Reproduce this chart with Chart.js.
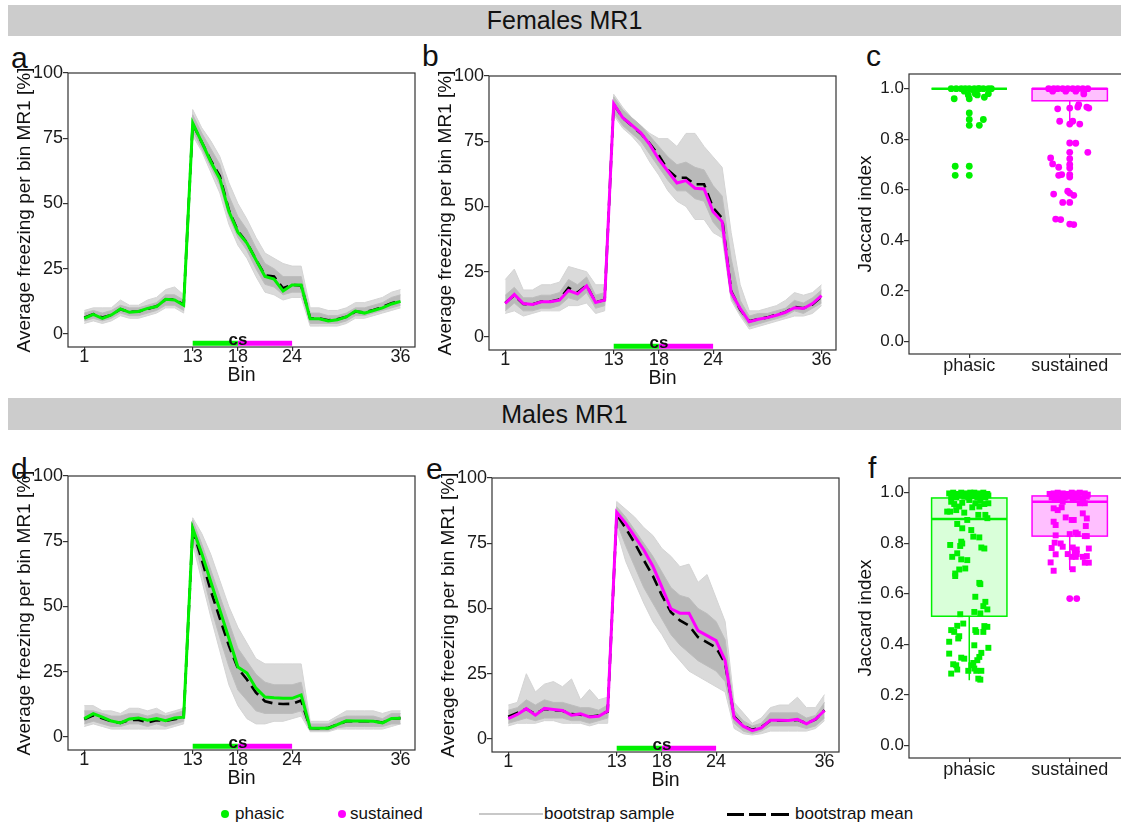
<!DOCTYPE html>
<html>
<head>
<meta charset="utf-8">
<script src="https://cdn.jsdelivr.net/npm/chart.js@4.4.1/dist/chart.umd.min.js"></script>
<style>
  body { margin: 0; width: 1121px; height: 826px; overflow: hidden; background: #fff; position: relative;
         font-family: "Liberation Sans", Arial, Helvetica, sans-serif; color: #111; }
  canvas { position: absolute; }
  .strip { position: absolute; left: 8px; width: 1113px; background: #cccccc; text-align: center; font-size: 25px; }
  .tag { position: absolute; font-size: 30px; line-height: 30px; }
  .leg { position: absolute; font-size: 17px; line-height: 20px; top: 804px; }
  .dot { position: absolute; width: 8px; height: 8px; border-radius: 50%; top: 810px; }
  .seg { position: absolute; height: 2px; top: 813px; }
</style>
</head>
<body>
<div class="strip" style="top:5px;height:31px;line-height:31px">Females MR1</div>
<div class="strip" style="top:398px;height:32px;line-height:32px">Males MR1</div>

<div class="tag" style="left:11px;top:43px">a</div>
<div class="tag" style="left:422px;top:41px">b</div>
<div class="tag" style="left:866px;top:41px">c</div>
<div class="tag" style="left:11px;top:454px">d</div>
<div class="tag" style="left:426px;top:454px">e</div>
<div class="tag" style="left:868px;top:453px">f</div>

<canvas id="panelA" width="420" height="350" style="left:0px;top:40px"></canvas>
<canvas id="panelB" width="420" height="350" style="left:421px;top:43px"></canvas>
<canvas id="panelC" width="300" height="356" style="left:841px;top:41px"></canvas>
<canvas id="panelD" width="420" height="350" style="left:0px;top:443px"></canvas>
<canvas id="panelE" width="420" height="350" style="left:424px;top:445px"></canvas>
<canvas id="panelF" width="300" height="356" style="left:841px;top:445px"></canvas>

<div class="dot" style="left:221px;background:#00f000"></div>
<div class="leg" style="left:235px">phasic</div>
<div class="dot" style="left:338px;background:#ff00ff"></div>
<div class="leg" style="left:350px">sustained</div>
<div class="seg" style="left:479px;width:64px;background:#c8c8c8"></div>
<div class="leg" style="left:544px">bootstrap sample</div>
<div class="seg" style="left:727px;width:17px;height:3px;background:#000"></div>
<div class="seg" style="left:749px;width:17px;height:3px;background:#000"></div>
<div class="seg" style="left:771px;width:18px;height:3px;background:#000"></div>
<div class="leg" style="left:795px">bootstrap mean</div>

<script>
// ---- data ----
const bins = [1, 2, 3, 4, 5, 6, 7, 8, 9, 10, 11, 12, 13, 14, 15, 16, 17, 18,
              19, 20, 21, 22, 23, 24, 25, 26, 27, 28, 29, 30, 31, 32, 33, 34, 35, 36];
const binTicks = [1, 13, 18, 24, 36];
const freezeTicks = [0, 25, 50, 75, 100];
const jaccardTicks = [0, 0.2, 0.4, 0.6, 0.8, 1.0];
const groups = ['phasic', 'sustained'];
const csStart = 13, csSplit = 18, csEnd = 24;

// a: females, phasic (obs, bootstrap mean, outer + dense bootstrap envelope)
const aObs   = [6.0, 7.5, 6.0, 7.3, 9.6, 8.3, 8.6, 9.8, 10.5, 13.3, 13.0, 11.0, 80.8, 73.5, 66.0, 59.5, 47.0, 39.0, 34.8, 28.4, 22.0, 21.0, 16.5, 18.8, 18.8, 5.8, 5.8, 5.0, 5.4, 6.5, 8.8, 8.0, 9.0, 10.0, 11.5, 12.5];
const aMean  = [6.2, 7.6, 6.3, 7.2, 9.5, 8.5, 8.6, 9.6, 10.6, 13.2, 13.2, 11.2, 80.5, 73.5, 66.5, 60.5, 47.5, 39.5, 35.0, 28.5, 22.5, 22.0, 17.5, 18.8, 18.6, 6.0, 6.0, 5.2, 5.6, 6.6, 8.6, 8.2, 9.2, 10.3, 11.8, 12.6];
const aUpper = [9, 10, 10, 10, 13, 11, 11, 13, 14, 17, 18, 15, 86, 79, 74, 68, 58, 50, 44, 37, 31, 29, 27, 26, 26, 10, 10, 9, 9, 10, 12, 12, 13, 14, 16, 17];
const aLower = [4, 5, 4, 5, 7, 6, 6, 7, 8, 10, 10, 8, 76, 70, 62, 54, 42, 34, 29, 22, 16, 15, 13, 14, 14, 3, 3, 3, 3, 4, 6, 6, 7, 8, 9, 10];
const aCoreHi = [8, 9, 8, 9, 11, 10, 10, 11, 12, 15, 15, 13, 84, 77, 71, 65, 53, 45, 40, 33, 27, 25, 22, 22, 22, 8, 8, 7, 7, 8, 10, 10, 11, 12, 14, 15];
const aCoreLo = [5, 6, 5, 6, 8, 7, 7, 8, 9, 11, 11, 9, 78, 71, 64, 57, 45, 37, 32, 25, 19, 18, 15, 16, 16, 4, 4, 4, 4, 5, 7, 7, 8, 9, 10, 11];

// b: females, sustained
const bObs   = [12.8, 16.3, 12.8, 12.4, 13.5, 13.5, 14.1, 17.8, 16.5, 19.6, 13.2, 14.1, 89.4, 84.0, 81.2, 78.2, 73.7, 68.0, 63.5, 59.0, 59.9, 57.0, 56.7, 48.0, 44.2, 17.0, 10.9, 5.8, 6.8, 7.4, 8.3, 9.4, 11.2, 10.9, 12.8, 15.8];
const bMean  = [13.0, 16.0, 12.6, 12.5, 13.6, 13.6, 14.3, 18.8, 17.0, 19.8, 13.3, 14.2, 89.2, 84.0, 81.0, 78.0, 74.0, 69.5, 64.0, 61.0, 61.0, 58.5, 58.5, 49.5, 45.5, 17.5, 10.5, 6.0, 6.8, 7.5, 8.5, 9.5, 11.5, 11.0, 12.5, 15.5];
const bUpper = [22, 26, 18, 18, 20, 20, 21, 27, 26, 25, 20, 20, 93, 88, 84, 81, 78, 76, 76, 73, 78, 78, 73, 69, 65, 40, 20, 10, 10, 11, 12, 14, 17, 16, 17, 20];
const bLower = [9, 10, 8, 9, 10, 10, 10, 12, 12, 13, 9, 10, 85, 80, 77, 73, 67, 62, 56, 52, 50, 45, 45, 40, 38, 14, 8, 3, 4, 5, 6, 7, 8, 8, 9, 12];
const bCoreHi = [16, 19, 15, 15, 16, 16, 17, 22, 20, 23, 16, 17, 92, 87, 84, 81, 77, 73, 69, 66, 67, 65, 64, 58, 54, 30, 14, 8, 9, 9, 10, 11, 14, 13, 15, 18];
const bCoreLo = [10, 13, 10, 10, 11, 11, 12, 15, 14, 17, 11, 12, 86, 81, 78, 75, 70, 65, 60, 56, 56, 53, 52, 44, 40, 15, 9, 4, 5, 6, 7, 8, 10, 9, 11, 13];

// d: males, phasic
const dObs   = [7.0, 8.9, 7.6, 6.1, 5.4, 6.9, 7.3, 6.4, 7.1, 6.2, 7.3, 7.6, 79.9, 70.3, 59.5, 48.7, 37.8, 26.8, 24.5, 18.7, 15.3, 15.0, 14.8, 14.8, 16.1, 3.4, 3.3, 3.3, 4.7, 6.2, 6.1, 6.1, 6.0, 5.4, 7.1, 7.2];
const dMean  = [6.8, 8.3, 7.2, 6.0, 5.4, 6.5, 6.5, 5.6, 6.4, 6.2, 6.8, 7.6, 79.5, 68.0, 56.0, 45.5, 35.0, 26.3, 22.0, 17.0, 13.7, 12.8, 12.6, 12.7, 14.0, 3.4, 3.3, 3.4, 4.8, 6.0, 6.0, 6.0, 6.0, 5.5, 7.0, 7.2];
const dUpper = [12, 12, 10, 10, 9, 11, 11, 10, 11, 9, 10, 11, 84, 78, 70, 60, 50, 42, 36, 30, 28, 28, 28, 28, 28, 6, 6, 6, 8, 10, 10, 10, 10, 9, 10, 10];
const dLower = [4, 5, 4, 3, 3, 3, 3, 3, 3, 3, 4, 5, 74, 60, 46, 33, 20, 12, 7, 5, 5, 6, 6, 7, 8, 2, 2, 2, 3, 3, 3, 3, 3, 3, 4, 5];
const dCoreHi = [10, 10, 9, 8, 8, 9, 9, 8, 9, 8, 9, 10, 83, 74, 64, 54, 44, 34, 29, 24, 21, 20, 20, 20, 21, 5, 5, 5, 7, 8, 8, 8, 8, 7, 9, 9];
const dCoreLo = [5, 6, 5, 4, 4, 5, 5, 4, 5, 4, 5, 6, 77, 64, 50, 38, 27, 18, 14, 10, 9, 9, 9, 9, 10, 2.5, 2.5, 2.5, 3.5, 4, 4, 4, 4, 4, 5, 5];

// e: males, sustained
const eObs   = [7.8, 9.4, 11.6, 9.1, 11.7, 11.3, 10.9, 9.1, 9.6, 8.4, 8.7, 10.7, 86.9, 82.6, 77.5, 72.4, 66.2, 58.2, 49.9, 48.2, 48.2, 41.5, 39.6, 37.7, 30.0, 8.1, 4.9, 3.2, 4.2, 7.2, 7.2, 7.1, 7.5, 5.8, 7.6, 10.9];
const eMean  = [8.5, 10.0, 11.5, 9.5, 11.5, 11.0, 10.8, 9.5, 9.3, 8.5, 9.0, 10.5, 86.0, 80.7, 75.0, 68.5, 62.5, 55.0, 48.6, 45.4, 43.4, 39.0, 37.0, 35.0, 29.0, 8.5, 5.0, 3.5, 4.5, 7.0, 7.0, 7.0, 7.3, 6.0, 7.5, 11.0];
const eUpper = [13, 14, 25, 18, 21, 22, 20, 23, 15, 19, 15, 16, 91, 88, 85, 81, 78, 73, 70, 66, 67, 60, 63, 54, 45, 14, 10, 6, 8, 12, 13, 13, 16, 12, 12, 17];
const eLower = [5, 6, 6, 6, 7, 7, 6, 6, 6, 5, 6, 6, 80, 68, 60, 52, 45, 40, 34, 30, 26, 24, 22, 20, 18, 4, 2, 1.5, 2, 3, 3, 3, 3, 3, 4, 7];
const eCoreHi = [11, 12, 15, 13, 15, 14, 14, 13, 12, 12, 11, 13, 89, 85, 80, 75, 70, 64, 58, 55, 54, 50, 48, 45, 38, 11, 7, 5, 6, 10, 10, 10, 10, 8, 9, 14];
const eCoreLo = [6, 7, 8, 7, 8, 8, 8, 7, 7, 6, 7, 8, 83, 74, 66, 58, 52, 46, 40, 36, 33, 30, 28, 26, 22, 6, 3, 2, 3, 5, 5, 5, 5, 4, 5, 8];

// c, f: Jaccard index per sample [value, horizontal jitter in category units]
const cPhasicPts = [[1.0,-0.18],[1.0,-0.13],[1.0,-0.08],[1.0,-0.04],[1.0,0],[1.0,0.05],[1.0,0.09],[1.0,0.14],[1.0,0.19],[1.0,0.22],
  [0.99,-0.05],[0.995,0.04],[1.0,0.10],[0.96,-0.15],[0.96,0],[0.975,0.08],[0.98,0.06],[0.966,0.15],[0.98,0.19],[0.975,-0.01],
  [0.904,0],[0.878,0],[0.878,0.14],[0.855,0],[0.855,0.10],[0.693,-0.14],[0.693,0],[0.657,-0.14],[0.657,0]];
const cSustPts = [[1.0,-0.21],[1.0,-0.16],[1.0,-0.12],[1.0,-0.07],[1.0,-0.02],[1.0,0.03],[1.0,0.08],[1.0,0.13],[1.0,0.18],
  [0.99,-0.17],[0.99,-0.04],[0.99,0.06],[0.99,0.14],[0.979,0.14],[0.92,-0.12],[0.923,0],[0.937,0.09],[0.927,0.08],[0.927,0.17],[0.923,0.19],
  [0.871,-0.10],[0.86,0],[0.871,0.03],[0.86,0.10],[0.785,0],[0.784,0.06],[0.748,0],[0.748,0.18],[0.726,-0.19],[0.723,0],
  [0.702,-0.17],[0.689,-0.11],[0.70,0],[0.686,0],[0.657,-0.11],[0.66,-0.08],[0.66,0],[0.65,0],[0.583,-0.16],[0.594,-0.02],
  [0.587,0],[0.578,0.04],[0.55,-0.07],[0.55,0],[0.484,-0.14],[0.482,-0.09],[0.464,0],[0.462,0.04]];
const fPhasicPts = [[0.997,-0.20],[1.0,-0.16],[0.995,-0.12],[1.0,-0.08],[0.997,-0.03],[1.0,0.01],[1.0,0.05],[0.997,0.10],[1.0,0.14],[0.995,0.18],
  [0.984,-0.18],[0.981,-0.13],[0.989,-0.09],[0.984,-0.05],[0.981,-0.01],[0.986,0.04],[0.981,0.08],[0.986,0.12],[0.981,0.16],[0.989,0.19],
  [0.964,-0.18],[0.955,-0.15],[0.960,-0.07],[0.971,0],[0.958,0.06],[0.968,0.11],[0.955,0.15],[0.958,0.19],[0.945,-0.10],[0.942,0.03],
  [0.945,0.10],[0.925,-0.22],[0.925,-0.19],[0.931,-0.13],[0.912,0.09],[0.921,-0.05],[0.912,0.16],[0.899,0.18],[0.892,-0.02],[0.876,-0.12],
  [0.859,-0.07],[0.852,0.02],[0.826,0.04],[0.823,0.10],[0.783,0.12],[0.779,0.15],[0.793,-0.19],[0.806,-0.08],[0.799,-0.07],[0.789,-0.09],
  [0.760,-0.12],[0.746,-0.17],[0.736,-0.08],[0.733,-0.02],[0.700,-0.04],[0.696,-0.10],[0.680,-0.14],[0.670,-0.14],[0.643,0.10],[0.638,0.11],
  [0.588,0.06],[0.568,0.16],[0.551,0.14],[0.538,0.18],[0.528,0.05],[0.522,0.11],[0.519,-0.09],[0.482,-0.06],[0.473,-0.12],[0.472,0.15],
  [0.469,0.18],[0.456,-0.18],[0.449,-0.15],[0.456,0.06],[0.449,0.07],[0.449,0.14],[0.432,-0.10],[0.423,-0.11],[0.410,-0.20],[0.396,0.05],
  [0.386,0.19],[0.366,0.12],[0.363,-0.20],[0.350,0.10],[0.347,-0.08],[0.343,-0.05],[0.337,0.08],[0.326,0.04],[0.317,0.02],[0.321,-0.16],
  [0.317,-0.13],[0.300,-0.12],[0.304,0.05],[0.295,-0.01],[0.295,0.07],[0.295,0.12],[0.284,-0.18],[0.264,0.09],[0.260,0.11]];
const fSustPts = [[0.995,-0.20],[0.997,-0.16],[1.0,-0.12],[0.997,-0.07],[0.995,-0.03],[1.0,0.02],[0.997,0.06],[1.0,0.10],[0.997,0.15],[0.992,0.18],
  [0.981,-0.18],[0.984,-0.14],[0.978,-0.10],[0.981,-0.05],[0.984,0],[0.978,0.04],[0.981,0.08],[0.976,0.13],[0.984,0.17],[0.964,0.13],
  [0.958,0.10],[0.971,0.03],[0.964,-0.07],[0.974,-0.15],[0.958,0.15],[0.938,-0.16],[0.942,-0.08],[0.931,-0.12],[0.918,0.13],[0.898,0.17],
  [0.902,-0.04],[0.892,0.02],[0.892,0.04],[0.885,-0.16],[0.872,-0.14],[0.868,0.16],[0.842,0.06],[0.836,0.08],[0.836,0],[0.831,-0.14],
  [0.828,0.17],[0.828,0.15],[0.802,-0.15],[0.799,-0.09],[0.786,-0.07],[0.781,-0.18],[0.783,0.03],[0.775,0.07],[0.779,0.19],[0.766,0.05],
  [0.757,0.07],[0.757,-0.02],[0.756,-0.14],[0.749,0.17],[0.746,0.02],[0.746,0.06],[0.746,0.13],[0.724,-0.19],[0.723,0.15],[0.723,0.19],
  [0.697,0.03],[0.691,-0.16]];
const fSustOutliers = [[0.581,0],[0.581,0.07]];

// box stats: [lower whisker, q1, median, q3, upper whisker]
const cBoxPhasic = [1.0, 1.0, 1.0, 1.0, 1.0];
const cBoxSust   = [0.87, 0.952, 1.0, 1.0, 1.0];
const fBoxPhasic = [0.258, 0.511, 0.896, 0.979, 1.0];
const fBoxSust   = [0.694, 0.828, 0.964, 0.987, 1.0];

const green = '#00f000';
const magenta = '#ff00ff';

Chart.defaults.font.family = '"Liberation Sans", Arial, Helvetica, sans-serif';
Chart.defaults.color = '#1a1a1a';
Chart.defaults.animation = false;

const toPts = arr => bins.map((b, i) => ({ x: b, y: arr[i] }));

// panel border on all four sides
const framePlugin = {
  id: 'frame',
  afterDatasetsDraw(chart) {
    const a = chart.chartArea, c = chart.ctx;
    c.save();
    c.strokeStyle = '#333';
    c.lineWidth = 1.2;
    c.strokeRect(a.left, a.top, a.right - a.left, a.bottom - a.top);
    c.restore();
  }
};

// "cs" label on the stimulus bar
const csLabel = {
  id: 'csLabel',
  afterDatasetsDraw(chart) {
    const c = chart.ctx;
    c.save();
    c.font = 'bold 17px "Liberation Sans", Arial, sans-serif';
    c.fillStyle = '#111';
    c.textAlign = 'center';
    c.textBaseline = 'middle';
    c.fillText('cs', chart.scales.x.getPixelForValue(csSplit), chart.scales.y.getPixelForValue(-2.4));
    c.restore();
  }
};

const axisGrid = len => ({ drawOnChartArea: false, drawTicks: true, tickLength: len, color: '#333', lineWidth: 1.2 });

function freezeChart(id, s, color) {
  const csLevel = -3.6;
  new Chart(document.getElementById(id), {
    type: 'line',
    data: {
      datasets: [
        { data: toPts(s.upper), borderColor: '#d4d4d4', borderWidth: 1, backgroundColor: '#dadada', fill: '+1', order: 12 },
        { data: toPts(s.lower), borderColor: '#d4d4d4', borderWidth: 1, fill: false, order: 11 },
        { data: toPts(s.coreHi), borderColor: '#bdbdbd', borderWidth: 1, backgroundColor: '#b9b9b9', fill: '+1', order: 10 },
        { data: toPts(s.coreLo), borderColor: '#bdbdbd', borderWidth: 1, fill: false, order: 9 },
        { data: toPts(s.mean), borderColor: '#000', borderWidth: 2.6, borderDash: [11, 6], fill: false, order: 2 },
        { data: toPts(s.obs), borderColor: color, borderWidth: 3, fill: false, order: 1 },
        { data: [{ x: csStart, y: csLevel }, { x: csSplit, y: csLevel }], borderColor: green, borderWidth: 5, fill: false, order: 0 },
        { data: [{ x: csSplit, y: csLevel }, { x: csEnd, y: csLevel }], borderColor: magenta, borderWidth: 5, fill: false, order: 0 }
      ]
    },
    options: {
      responsive: false,
      layout: { padding: { top: 33, right: 5, left: 0, bottom: 0 } },
      plugins: { legend: { display: false }, tooltip: { enabled: false } },
      elements: { line: { tension: 0 }, point: { radius: 0 } },
      scales: {
        x: {
          type: 'linear', min: -0.8, max: 37.6,
          afterBuildTicks: sc => { sc.ticks = binTicks.map(v => ({ value: v })); },
          afterFit: sc => { sc.height = 43; },
          ticks: { autoSkip: false, maxRotation: 0, padding: -2.5, font: { size: 18, lineHeight: 1 } },
          grid: axisGrid(4),
          border: { display: false },
          title: { display: true, text: 'Bin', color: '#111', font: { size: 19.5 }, padding: { top: 0, bottom: 3 } }
        },
        y: {
          min: -5, max: 100,
          afterBuildTicks: sc => { sc.ticks = freezeTicks.map(v => ({ value: v })); },
          afterFit: sc => { sc.width = 68; },
          ticks: { padding: 0, font: { size: 18 } },
          grid: axisGrid(5),
          border: { display: false },
          title: { display: true, text: 'Average freezing per bin MR1 [%]', color: '#111', font: { size: 19 }, padding: { top: 13, bottom: 0 } }
        }
      }
    },
    plugins: [framePlugin, csLabel]
  });
}

// boxplots drawn under the jittered points
const boxPlugin = {
  id: 'boxes',
  beforeDatasetsDraw(chart, args, opts) {
    const c = chart.ctx, xs = chart.scales.x, ys = chart.scales.y;
    opts.boxes.forEach(b => {
      const [lo, q1, med, q3, hi] = b.stats;
      const xl = xs.getPixelForValue(b.at - 0.375), xr = xs.getPixelForValue(b.at + 0.375);
      const xc = xs.getPixelForValue(b.at);
      c.save();
      c.strokeStyle = b.color;
      c.lineWidth = 1.5;
      c.beginPath();
      c.moveTo(xc, ys.getPixelForValue(lo)); c.lineTo(xc, ys.getPixelForValue(q1));
      c.moveTo(xc, ys.getPixelForValue(q3)); c.lineTo(xc, ys.getPixelForValue(hi));
      c.stroke();
      const yt = ys.getPixelForValue(q3), yb = ys.getPixelForValue(q1);
      c.fillStyle = b.fill;
      c.fillRect(xl, yt, xr - xl, yb - yt);
      c.strokeRect(xl, yt, xr - xl, yb - yt);
      c.lineWidth = 2.5;
      c.beginPath();
      c.moveTo(xl, ys.getPixelForValue(med)); c.lineTo(xr, ys.getPixelForValue(med));
      c.stroke();
      c.restore();
    });
  }
};

const jitterPts = (pairs, at) => pairs.map(p => ({ x: at + p[1], y: p[0] }));

function jaccardChart(id, sets, boxes) {
  new Chart(document.getElementById(id), {
    type: 'scatter',
    data: {
      datasets: sets.map(s => ({
        data: jitterPts(s.pts, s.at), pointStyle: s.shape, pointRadius: s.r,
        backgroundColor: s.color, borderWidth: 0
      }))
    },
    options: {
      responsive: false,
      layout: { padding: { top: 33, right: 11, left: 0, bottom: 0 } },
      plugins: { legend: { display: false }, tooltip: { enabled: false }, boxes: { boxes: boxes } },
      scales: {
        x: {
          type: 'linear', min: 0.4, max: 2.6,
          afterBuildTicks: sc => { sc.ticks = [1, 2].map(v => ({ value: v })); },
          afterFit: sc => { sc.height = 43; },
          ticks: { autoSkip: false, maxRotation: 0, padding: -1, font: { size: 18, lineHeight: 1 },
                   callback: v => groups[v - 1] },
          grid: axisGrid(4),
          border: { display: false }
        },
        y: {
          min: -0.05, max: 1.058,
          afterBuildTicks: sc => { sc.ticks = jaccardTicks.map(v => ({ value: v })); },
          afterFit: sc => { sc.width = 68; },
          ticks: { padding: 0, font: { size: 17 }, callback: v => v.toFixed(1) },
          grid: axisGrid(5),
          border: { display: false },
          title: { display: true, text: 'Jaccard index', color: '#111', font: { size: 19 }, padding: { top: 13, bottom: 0 } }
        }
      }
    },
    plugins: [boxPlugin, framePlugin]
  });
}

freezeChart('panelA', { upper: aUpper, lower: aLower, coreHi: aCoreHi, coreLo: aCoreLo, mean: aMean, obs: aObs }, green);
freezeChart('panelB', { upper: bUpper, lower: bLower, coreHi: bCoreHi, coreLo: bCoreLo, mean: bMean, obs: bObs }, magenta);
freezeChart('panelD', { upper: dUpper, lower: dLower, coreHi: dCoreHi, coreLo: dCoreLo, mean: dMean, obs: dObs }, green);
freezeChart('panelE', { upper: eUpper, lower: eLower, coreHi: eCoreHi, coreLo: eCoreLo, mean: eMean, obs: eObs }, magenta);

jaccardChart('panelC', [
  { pts: cPhasicPts, at: 1, color: green, shape: 'circle', r: 3.4 },
  { pts: cSustPts, at: 2, color: magenta, shape: 'circle', r: 3.4 }
], [
  { at: 1, stats: cBoxPhasic, color: green, fill: 'rgba(0,255,0,0.15)' },
  { at: 2, stats: cBoxSust, color: magenta, fill: 'rgba(255,0,255,0.25)' }
]);

jaccardChart('panelF', [
  { pts: fPhasicPts, at: 1, color: green, shape: 'rect', r: 4.2 },
  { pts: fSustPts, at: 2, color: magenta, shape: 'rect', r: 4.2 },
  { pts: fSustOutliers, at: 2, color: magenta, shape: 'circle', r: 3.4 }
], [
  { at: 1, stats: fBoxPhasic, color: green, fill: 'rgba(0,255,0,0.15)' },
  { at: 2, stats: fBoxSust, color: magenta, fill: 'rgba(255,0,255,0.25)' }
]);
</script>
</body>
</html>
